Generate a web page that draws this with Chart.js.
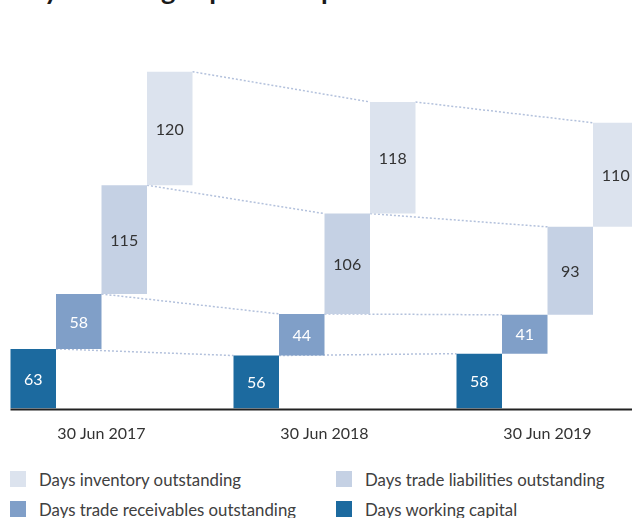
<!DOCTYPE html>
<html>
<head>
<meta charset="utf-8">
<script src="https://cdn.jsdelivr.net/npm/chart.js@4.4.1/dist/chart.umd.min.js"></script>
<style>
  html, body { margin: 0; padding: 0; background: #fff; }
  body { width: 632px; height: 518px; position: relative; overflow: hidden; font-family: Lato, sans-serif; }
  #title { position: absolute; left: 10px; top: -25px; line-height: 30px; font-size: 27.4px; font-weight: bold; color: #1a1a1a; white-space: nowrap; }
  #wrap { position: absolute; left: -10px; top: 0; width: 669px; height: 450px; }
  .leg { position: absolute; font-size: 16.8px; color: #404040; line-height: 20px; white-space: nowrap; }
  .leg i { position: absolute; left: -29px; top: 1px; width: 16px; height: 16px; }
</style>
</head>
<body>
<div id="title">Days working capital components</div>
<div id="wrap"><canvas id="c"></canvas></div>
<div id="legend"></div>
<script>
// values (days)
const categories = ['30 Jun 2017', '30 Jun 2018', '30 Jun 2019'];
const workingCapital = [63, 56, 58];
const receivables = [58, 44, 41];
const liabilities = [115, 106, 93];
const inventory = [120, 118, 110];

const seriesNames = [
  'Days working capital',
  'Days trade receivables outstanding',
  'Days trade liabilities outstanding',
  'Days inventory outstanding',
];
const seriesColors = ['#1c6a9f', '#809fc8', '#c5d1e4', '#dce3ee'];
const labelColors = ['#ffffff', '#ffffff', '#333333', '#333333'];
const FONT_FAMILY = 'Lato, sans-serif';

// stack each series on top of the previous one as floating bars
const seriesValues = [workingCapital, receivables, liabilities, inventory];
const bases = categories.map(() => 0);
const datasets = seriesValues.map((vals, i) => {
  const data = vals.map((v, j) => {
    const range = [bases[j], bases[j] + v];
    bases[j] += v;
    return range;
  });
  return {
    label: seriesNames[i],
    data,
    backgroundColor: seriesColors[i],
    borderWidth: 0,
    categoryPercentage: 182 / 223,
    barPercentage: 1,
  };
});

const waterfallExtras = {
  id: 'waterfallExtras',
  beforeDatasetsDraw(chart) {
    const ctx = chart.ctx;
    ctx.save();
    ctx.strokeStyle = '#b3c1dc';
    ctx.lineWidth = 1.5;
    ctx.setLineDash([2, 2]);
    chart.data.datasets.forEach((ds, i) => {
      const els = chart.getDatasetMeta(i).data;
      for (let j = 0; j < els.length - 1; j++) {
        const a = els[j], b = els[j + 1];
        ctx.beginPath();
        ctx.moveTo(a.x + a.width / 2, a.y);
        ctx.lineTo(b.x - b.width / 2, b.y);
        ctx.stroke();
      }
    });
    ctx.restore();
  },
  afterDatasetsDraw(chart) {
    const ctx = chart.ctx;
    ctx.save();
    ctx.font = `16px ${FONT_FAMILY}`;
    ctx.textAlign = 'center';
    ctx.textBaseline = 'middle';
    chart.data.datasets.forEach((ds, i) => {
      chart.getDatasetMeta(i).data.forEach((el, j) => {
        ctx.fillStyle = labelColors[i];
        ctx.fillText(String(seriesValues[i][j]), el.x, (el.y + el.base) / 2 + 1);
      });
    });
    // base line
    const first = chart.getDatasetMeta(0).data[0];
    const y0 = chart.scales.y.getPixelForValue(0);
    ctx.strokeStyle = '#222222';
    ctx.lineWidth = 2;
    ctx.beginPath();
    ctx.moveTo(first.x - first.width / 2, y0 + 1);
    ctx.lineTo(chart.chartArea.right, y0 + 1);
    ctx.stroke();
    ctx.restore();
  },
};

new Chart(document.getElementById('c'), {
  type: 'bar',
  data: { labels: categories, datasets },
  plugins: [waterfallExtras],
  options: {
    responsive: true,
    maintainAspectRatio: false,
    animation: false,
    layout: { padding: { top: 49, left: 0, right: 0, bottom: 0 } },
    plugins: { legend: { display: false }, tooltip: { enabled: false } },
    scales: {
      x: {
        grid: { display: false },
        border: { display: false },
        ticks: { color: '#333333', font: { family: FONT_FAMILY, size: 16 }, padding: 8 },
        afterFit(scale) { scale.height = 41.5; },
      },
      y: {
        display: false,
        min: 0,
        max: 380,
      },
    },
  },
});

// legend, two columns
const legendOrder = [3, 2, 1, 0];
const legendPos = [[39, 470], [365, 470], [39, 500], [365, 500]];
const legend = document.getElementById('legend');
legendOrder.forEach((si, k) => {
  const d = document.createElement('div');
  d.className = 'leg';
  d.style.left = legendPos[k][0] + 'px';
  d.style.top = legendPos[k][1] + 'px';
  d.innerHTML = `<i style="background:${seriesColors[si]}"></i>`;
  d.appendChild(document.createTextNode(seriesNames[si]));
  legend.appendChild(d);
});
</script>
</body>
</html>
